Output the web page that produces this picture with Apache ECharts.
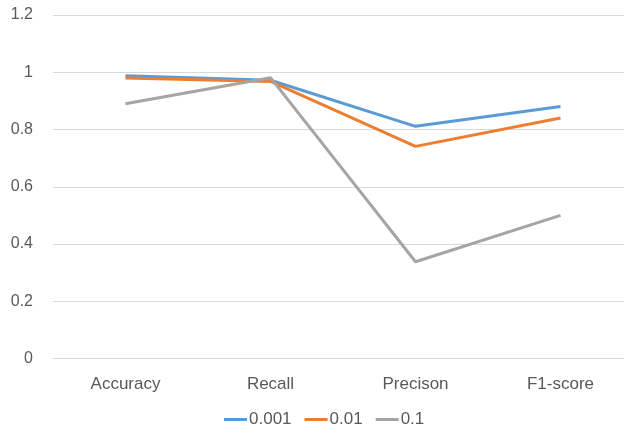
<!DOCTYPE html>
<html>
<head>
<meta charset="utf-8">
<script src="https://cdn.jsdelivr.net/npm/echarts@6/dist/echarts.min.js"></script>
<style>
  html, body { margin: 0; padding: 0; background: #fff; }
  #chart { width: 624px; height: 427px; }
</style>
</head>
<body>
<div id="chart"></div>
<script>
// metrics on x, one line per rate
var categories = ['Accuracy', 'Recall', 'Precison', 'F1-score'];
var seriesNames = ['0.001', '0.01', '0.1'];
var vals001 = [0.988, 0.972, 0.811, 0.880];
var vals01 = [0.980, 0.968, 0.741, 0.840];
var vals1 = [0.890, 0.981, 0.338, 0.500];
var colors = ['#5B9BD5', '#ED7D31', '#A5A5A5'];

var fontFam = '"Liberation Sans", "DejaVu Sans", sans-serif';
var allVals = [vals001, vals01, vals1];

var myChart = echarts.init(document.getElementById('chart'));

var series = [];
for (var i = 0; i < seriesNames.length; i++) {
    series.push({
        name: seriesNames[i],
        type: 'line',
        data: allVals[i],
        symbol: 'none',
        lineStyle: { width: 3, color: colors[i] },
        itemStyle: { color: colors[i] }
    });
}

myChart.setOption({
    animation: false,
    color: colors,
    grid: { left: 53, top: 15, width: 580, height: 343.5, outerBoundsMode: 'none', containLabel: false },
    legend: {
        data: seriesNames,
        left: 219,
        top: 406,
        icon: 'rect',
        itemWidth: 23,
        itemHeight: 3,
        itemGap: 13,
        textStyle: { color: '#595959', fontSize: 17, fontFamily: fontFam, padding: [0, 0, 0, -3] }
    },
    xAxis: {
        type: 'category',
        data: categories,
        boundaryGap: true,
        axisLine: { show: true, lineStyle: { color: '#D9D9D9', width: 1 } },
        axisTick: { show: false },
        axisLabel: { color: '#595959', fontSize: 17, fontFamily: fontFam, margin: 17 }
    },
    yAxis: {
        type: 'value',
        min: 0,
        max: 1.2,
        interval: 0.2,
        axisLine: { show: false },
        axisTick: { show: false },
        axisLabel: {
            color: '#595959', fontSize: 16, fontFamily: fontFam, margin: 20,
            formatter: function (v) { return String(Math.round(v * 10) / 10); }
        },
        splitLine: { lineStyle: { color: '#D9D9D9', width: 1 } }
    },
    series: series
});
</script>
</body>
</html>
